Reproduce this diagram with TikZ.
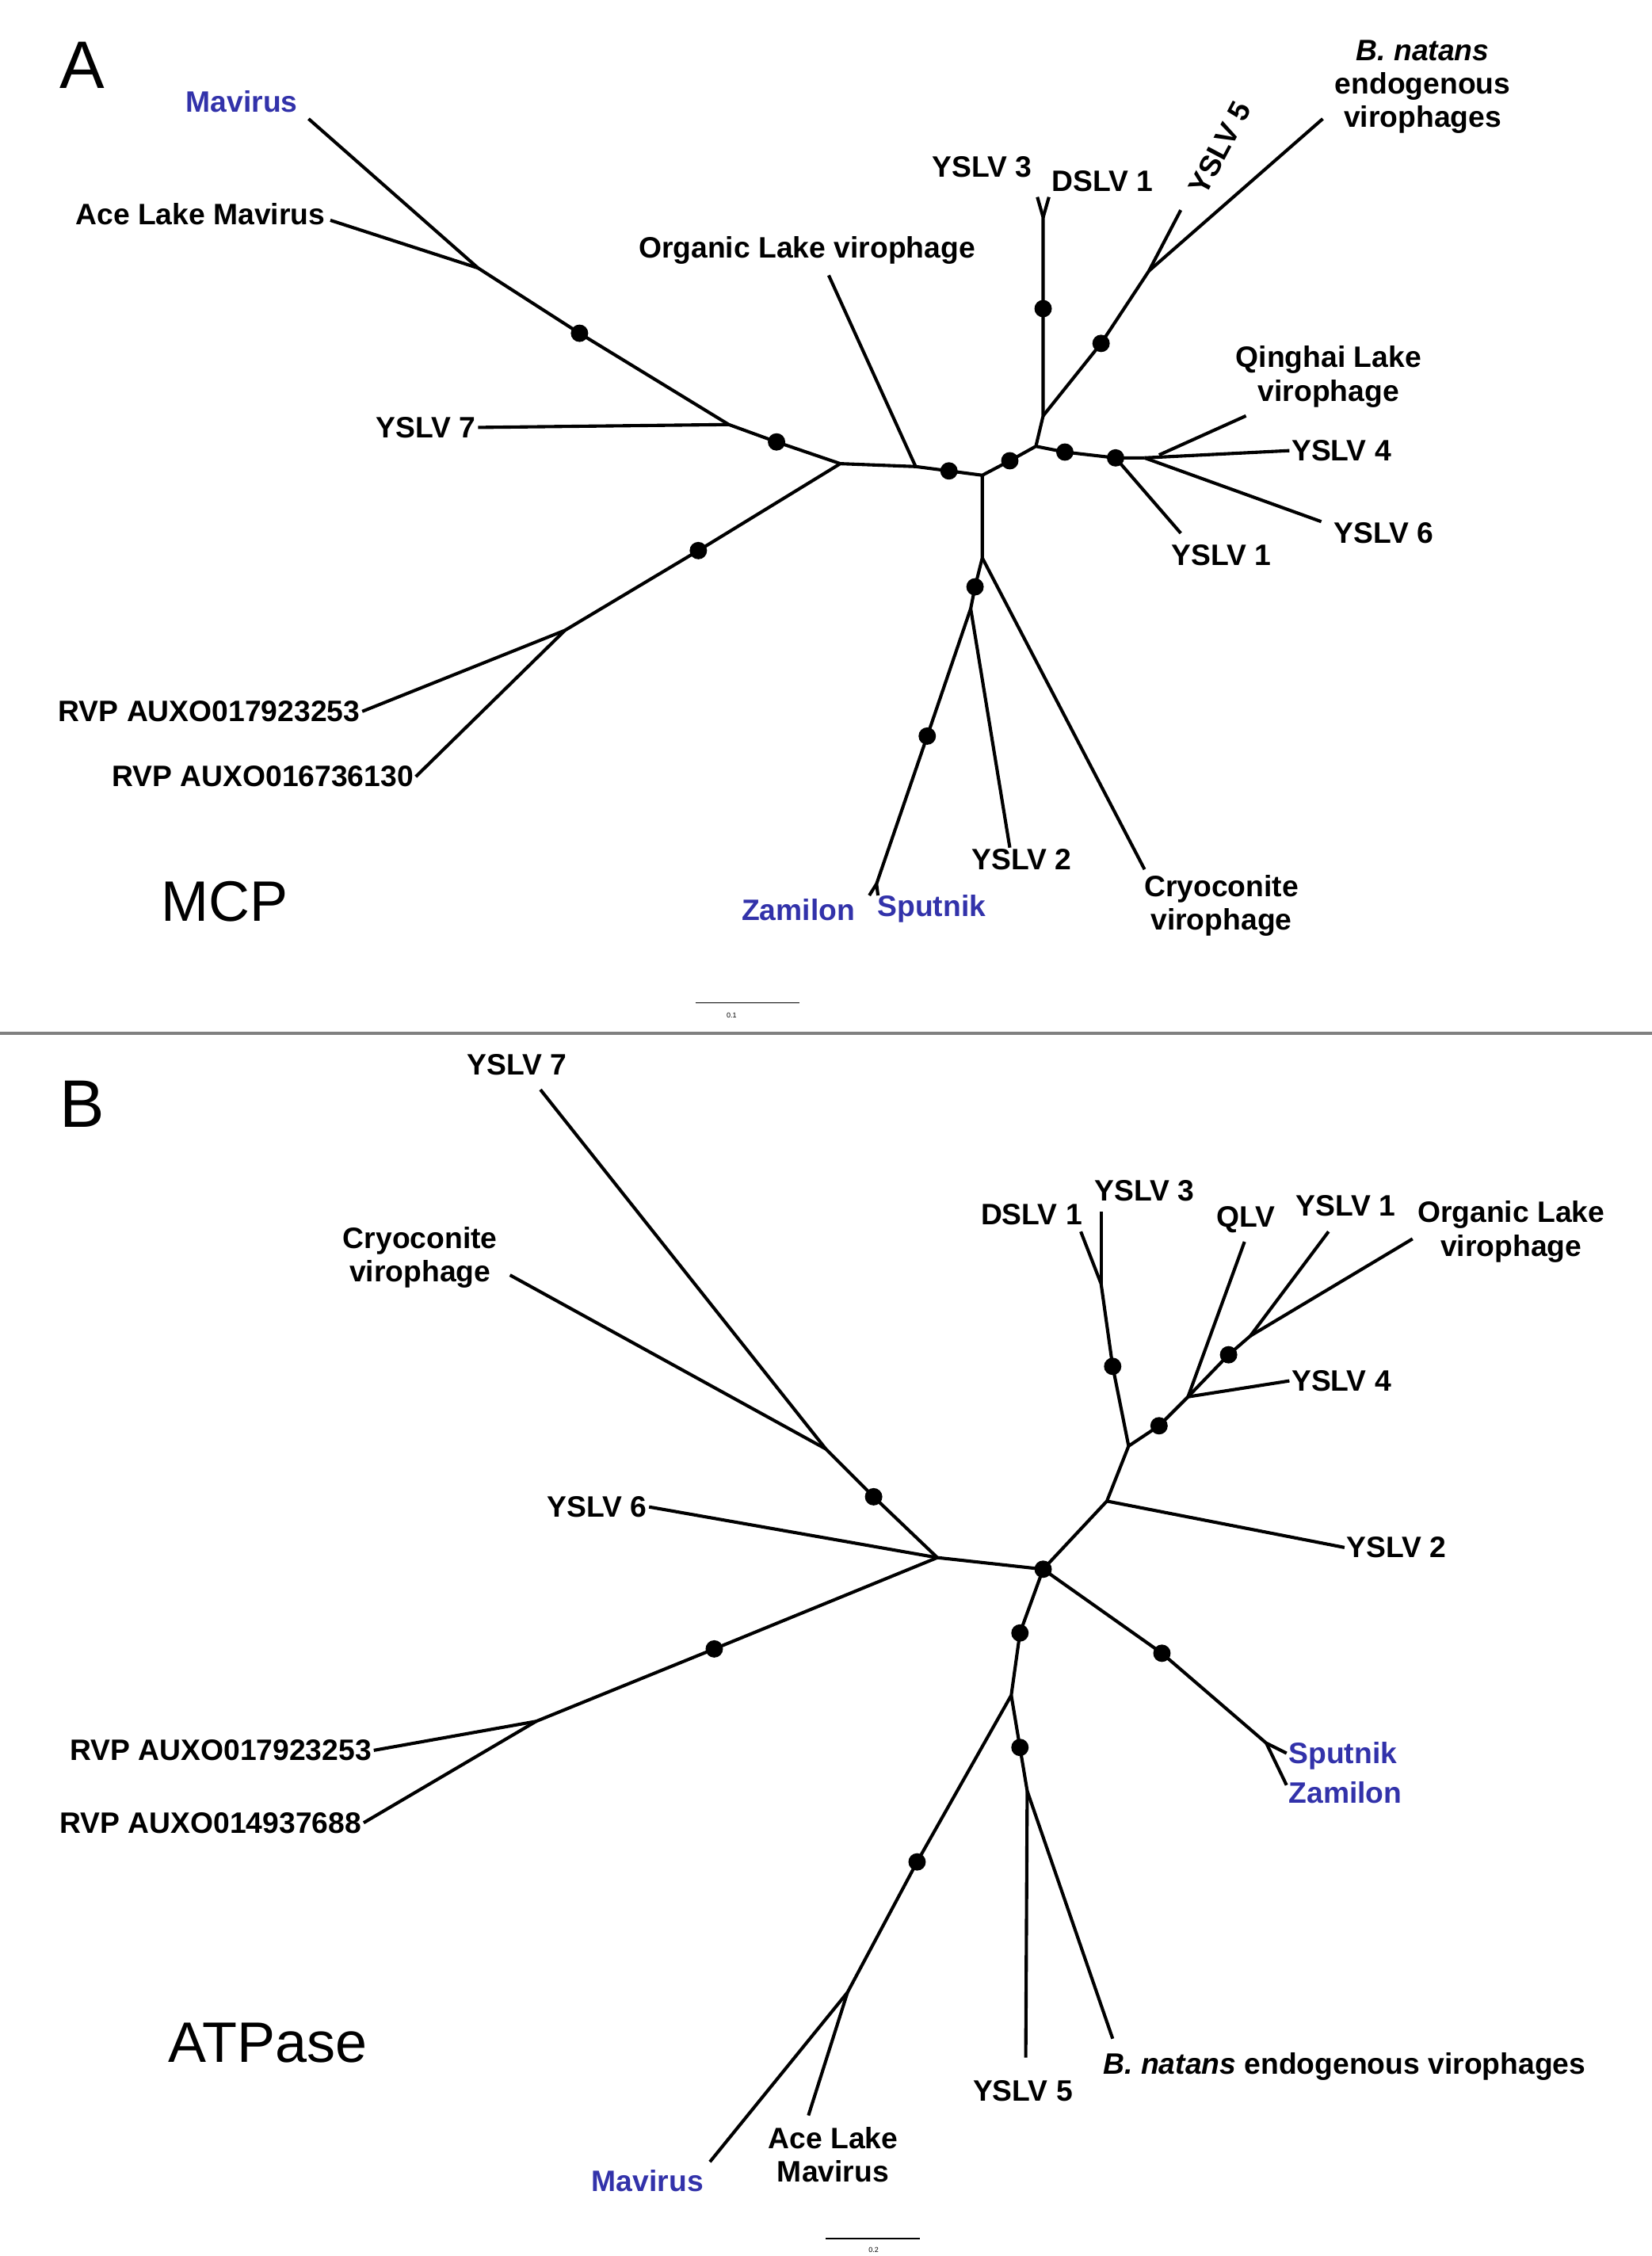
\documentclass[tikz,border=0pt]{standalone}
\usepackage{fontspec}
\setmainfont{Liberation Sans}
\begin{document}
\begin{tikzpicture}[x=0.05cm,y=-0.05cm,
  br/.style={line width=3.2pt,black},
  dot/.style={circle,fill=black,inner sep=0pt,minimum size=0.6cm},
  lb/.style={font=\fontsize{29}{33}\selectfont\bfseries,inner sep=2pt,align=center},
  bl/.style={lb,text={rgb,255:red,50;green,50;blue,170}},
  panel/.style={font=\fontsize{66}{70}\selectfont},
  gname/.style={font=\fontsize{56}{60}\selectfont}]
\useasboundingbox (0,0) rectangle (1140,1557);
% ---------------- Panel A ----------------
\node[panel] (pA) at (57,45) {A};
\node[gname] (mcp) at (155,622) {MCP};
\foreach \n/\p in {H1/{580,320},H2/{632,322},D1/{655,325},H3/{678,328},D2/{697,318},H4/{715,308},
 V/{720,287},VD/{720,213},VF/{720,150},BD/{760,237},BF/{793,187},R1/{735,312},R2/{770,316},RJ/{790,316},
 K/{678,385},KD/{673,405},KJ/{670,420},ZD/{640,508},ZF/{605,610},
 MD/{400,230},MJ/{330,185},Y7J/{503,293},MD2/{536,305},LD/{482,380},LJ/{390,435}}
 {\coordinate (\n) at (\p);}
\node[bl,anchor=east] (mav) at (207,70) {Mavirus};
\node[lb,anchor=east] (ace) at (226,148) {Ace Lake Mavirus};
\node[lb,anchor=east] (y7a) at (330,295) {YSLV 7};
\node[lb] (ola) at (557,173) {Organic Lake virophage};
\node[lb] (y3a) at (678,115) {YSLV 3};
\node[lb] (d1a) at (761,125) {DSLV 1};
\node[lb,rotate=62,inner sep=0pt] (y5a) at (842,102) {YSLV 5};
\node[lb] (bna) at (982,60) {\textit{B. natans}\\endogenous\\virophages};
\node[lb] (qla) at (917,260) {Qinghai Lake\\virophage};
\node[lb,anchor=west] (y4a) at (890,311) {YSLV 4};
\node[lb] (y6a) at (955,368) {YSLV 6};
\node[lb] (y1a) at (843,383) {YSLV 1};
\node[lb] (y2a) at (705,593) {YSLV 2};
\node[lb] (cra) at (843,625) {Cryoconite\\virophage};
\node[bl] (zma) at (551,628) {Zamilon};
\node[bl] (spa) at (643,627) {Sputnik};
\node[lb,anchor=east] (r1a) at (250,491) {RVP AUXO017923253};
\node[lb,anchor=east] (r2a) at (287,536) {RVP AUXO016736130};
% branches A
\draw[br] (213,82) -- (MJ) -- (MD) -- (Y7J) -- (MD2) -- (H1) -- (H2) -- (D1) -- (H3) -- (D2) -- (H4) -- (R1) -- (R2) -- (RJ);
\draw[br] (228,152) -- (MJ);
\draw[br] (y7a.east) -- (Y7J);
\draw[br] (572,190) -- (H2);
\draw[br] (H4) -- (V) -- (VD) -- (VF) -- (716,136); \draw[br] (VF) -- (724,136);
\draw[br] (V) -- (BD) -- (BF) -- (815,145); \draw[br] (BF) -- (913,82);
\draw[br] (800,314) -- (860,287); \draw[br] (RJ) -- (y4a.west); \draw[br] (RJ) -- (912,360);
\draw[br] (R2) -- (815,368);
\draw[br] (H3) -- (K) -- (KD) -- (KJ) -- (ZD) -- (ZF) -- (600,618); \draw[br] (ZF) -- (606,618);
\draw[br] (KJ) -- (697,585); \draw[br] (K) -- (790,600);
\draw[br] (H1) -- (LD) -- (LJ) -- (r1a.east); \draw[br] (LJ) -- (r2a.east);
\foreach \d in {MD,MD2,D1,D2,VD,BD,R1,R2,KD,ZD,LD} \node[dot] at (\d) {};
\draw[line width=1.2pt] (480,692) -- (552,692);
\node[font=\fontsize{7}{8}\selectfont] (sa) at (505,701) {0.1};
\draw[line width=3pt,gray] (0,713) -- (1140,713);
% ---------------- Panel B ----------------
\node[panel] (pB) at (57,762) {B};
\node[gname] (atp) at (185,1410) {ATPase};
\foreach \n/\p in {G/{647,1075},GD/{603,1033},GJ/{570,1000},GL/{493,1138},GLJ/{370,1188},
 H/{720,1083},S1/{764,1036},S2/{779,998},SD/{768,943},SF/{760,886},T1/{800,984},T2/{820,964},TD/{848,935},TJ/{863,922},
 PD/{802,1141},PF/{874,1203},W1/{704,1127},W2/{698,1170},MVD/{633,1285},MVF/{585,1375},BD2/{704,1206},BF2/{709,1236}}
 {\coordinate (\n) at (\p);}
\node[lb] (y7b) at (357,735) {YSLV 7};
\node[lb] (crb) at (290,868) {Cryoconite\\virophage};
\node[lb,anchor=east] (y6b) at (448,1040) {YSLV 6};
\node[lb,anchor=east] (r1b) at (258,1208) {RVP AUXO017923253};
\node[lb,anchor=east] (r2b) at (251,1258) {RVP AUXO014937688};
\node[lb] (d1b) at (712,838) {DSLV 1};
\node[lb] (y3b) at (790,822) {YSLV 3};
\node[lb] (qlb) at (860,842) {QLV};
\node[lb] (y1b) at (929,832) {YSLV 1};
\node[lb] (olb) at (1043,850) {Organic Lake\\virophage};
\node[lb,anchor=west] (y4b) at (890,953) {YSLV 4};
\node[lb,anchor=west] (y2b) at (928,1068) {YSLV 2};
\node[bl,anchor=west] (spb) at (888,1212) {Sputnik};
\node[bl,anchor=west] (zmb) at (888,1237) {Zamilon};
\node[lb] (y5b) at (706,1443) {YSLV 5};
\node[lb,anchor=west] (bnb) at (760,1426) {\textit{B. natans} endogenous virophages};
\node[lb] (acb) at (575,1487) {Ace Lake\\Mavirus};
\node[bl] (mvb) at (447,1505) {Mavirus};
% branches B
\draw[br] (373,752) -- (GJ) -- (GD) -- (G) -- (H);
\draw[br] (352,880) -- (GJ);
\draw[br] (y6b.east) -- (G);
\draw[br] (G) -- (GL) -- (GLJ) -- (r1b.east); \draw[br] (GLJ) -- (r2b.east);
\draw[br] (H) -- (S1) -- (S2) -- (SD) -- (SF) -- (746,850); \draw[br] (SF) -- (760,836);
\draw[br] (S1) -- (y2b.west);
\draw[br] (S2) -- (T1) -- (T2) -- (TD) -- (TJ) -- (917,850); \draw[br] (TJ) -- (975,855);
\draw[br] (T2) -- (859,857); \draw[br] (T2) -- (y4b.west);
\draw[br] (H) -- (PD) -- (PF) -- (888,1210); \draw[br] (PF) -- (888,1232);
\draw[br] (H) -- (W1) -- (W2) -- (MVD) -- (MVF) -- (490,1492); \draw[br] (MVF) -- (558,1460);
\draw[br] (W2) -- (BD2) -- (BF2) -- (708,1420); \draw[br] (BF2) -- (768,1407);
\foreach \d in {GD,GL,H,SD,T1,TD,PD,W1,BD2,MVD} \node[dot] at (\d) {};
\draw[line width=1.2pt] (570,1545) -- (635,1545);
\node[font=\fontsize{7}{8}\selectfont] (sb) at (603,1553) {0.2};
\end{tikzpicture}
\end{document}
